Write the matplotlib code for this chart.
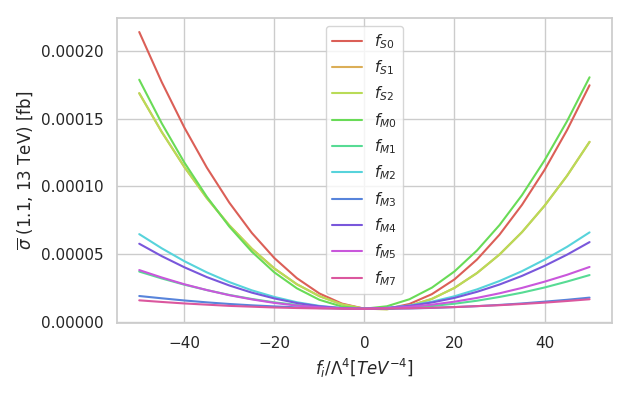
import numpy as np
import matplotlib
matplotlib.use('Agg')
import matplotlib.pyplot as plt
import seaborn as sns

# coupling values f_i / Lambda^4 [TeV^-4]
f_vals = list(range(-50, 55, 5))

# cross sections in units of 1e-5 fb, every 5 TeV^-4
scale = 1e-5
fS0 = [21.43, 17.72, 14.37, 11.40, 8.80, 6.56, 4.70, 3.21, 2.08, 1.33, 0.95,
       0.94, 1.30, 2.03, 3.12, 4.59, 6.43, 8.64, 11.22, 14.17, 17.49]
fS1 = [16.90, 14.03, 11.45, 9.14, 7.12, 5.39, 3.93, 2.76, 1.88, 1.27, 0.95,
       0.91, 1.16, 1.68, 2.49, 3.59, 4.96, 6.62, 8.57, 10.79, 13.30]
fS2 = [16.90, 14.03, 11.45, 9.14, 7.12, 5.39, 3.93, 2.76, 1.88, 1.27, 0.95,
       0.91, 1.16, 1.68, 2.49, 3.59, 4.96, 6.62, 8.57, 10.79, 13.30]
fM0 = [17.90, 14.67, 11.78, 9.24, 7.03, 5.17, 3.64, 2.46, 1.61, 1.11, 0.95,
       1.13, 1.65, 2.51, 3.71, 5.26, 7.14, 9.36, 11.93, 14.83, 18.08]
fM1 = [3.70, 3.19, 2.73, 2.33, 1.97, 1.67, 1.42, 1.23, 1.08, 0.99, 0.95,
       0.96, 1.03, 1.15, 1.32, 1.54, 1.82, 2.14, 2.52, 2.96, 3.44]
fM2 = [6.47, 5.42, 4.47, 3.64, 2.92, 2.31, 1.82, 1.43, 1.16, 1.00, 0.95,
       1.01, 1.19, 1.47, 1.87, 2.38, 3.00, 3.73, 4.58, 5.53, 6.60]
fM3 = [1.89, 1.72, 1.56, 1.42, 1.30, 1.20, 1.12, 1.05, 1.00, 0.97, 0.95,
       0.95, 0.97, 1.01, 1.07, 1.14, 1.23, 1.34, 1.47, 1.61, 1.77]
fM4 = [5.76, 4.84, 4.02, 3.29, 2.67, 2.14, 1.71, 1.37, 1.13, 0.99, 0.95,
       1.01, 1.16, 1.41, 1.75, 2.20, 2.74, 3.38, 4.12, 4.95, 5.88]
fM5 = [3.81, 3.26, 2.76, 2.33, 1.95, 1.64, 1.38, 1.18, 1.05, 0.97, 0.95,
       0.99, 1.09, 1.25, 1.47, 1.75, 2.09, 2.49, 2.95, 3.46, 4.04]
fM7 = [1.57, 1.45, 1.34, 1.25, 1.16, 1.10, 1.04, 1.00, 0.97, 0.95, 0.95,
       0.96, 0.98, 1.02, 1.07, 1.14, 1.21, 1.30, 1.40, 1.52, 1.65]

series = [fS0, fS1, fS2, fM0, fM1, fM2, fM3, fM4, fM5, fM7]
labels = [r'$f_{S0}$', r'$f_{S1}$', r'$f_{S2}$', r'$f_{M0}$', r'$f_{M1}$',
          r'$f_{M2}$', r'$f_{M3}$', r'$f_{M4}$', r'$f_{M5}$', r'$f_{M7}$']

sns.set_theme(style='whitegrid')
colors = sns.color_palette('hls', len(series))

fig = plt.figure(figsize=(6.31, 3.95), dpi=100)
ax = fig.add_axes([0.185, 0.182, 0.785, 0.772])

for vals, lab, col in zip(series, labels, colors):
    ax.plot(f_vals, np.array(vals) * scale, color=col, label=lab, lw=1.5)

ax.set_xlabel(r'$f_i/\Lambda^4[TeV^{-4}]$')
ax.set_ylabel(r'$\overline{\sigma}$ (1.1, 13 TeV) [fb]')
ax.legend(loc='upper center')

fig.savefig('out.png', dpi=100)
